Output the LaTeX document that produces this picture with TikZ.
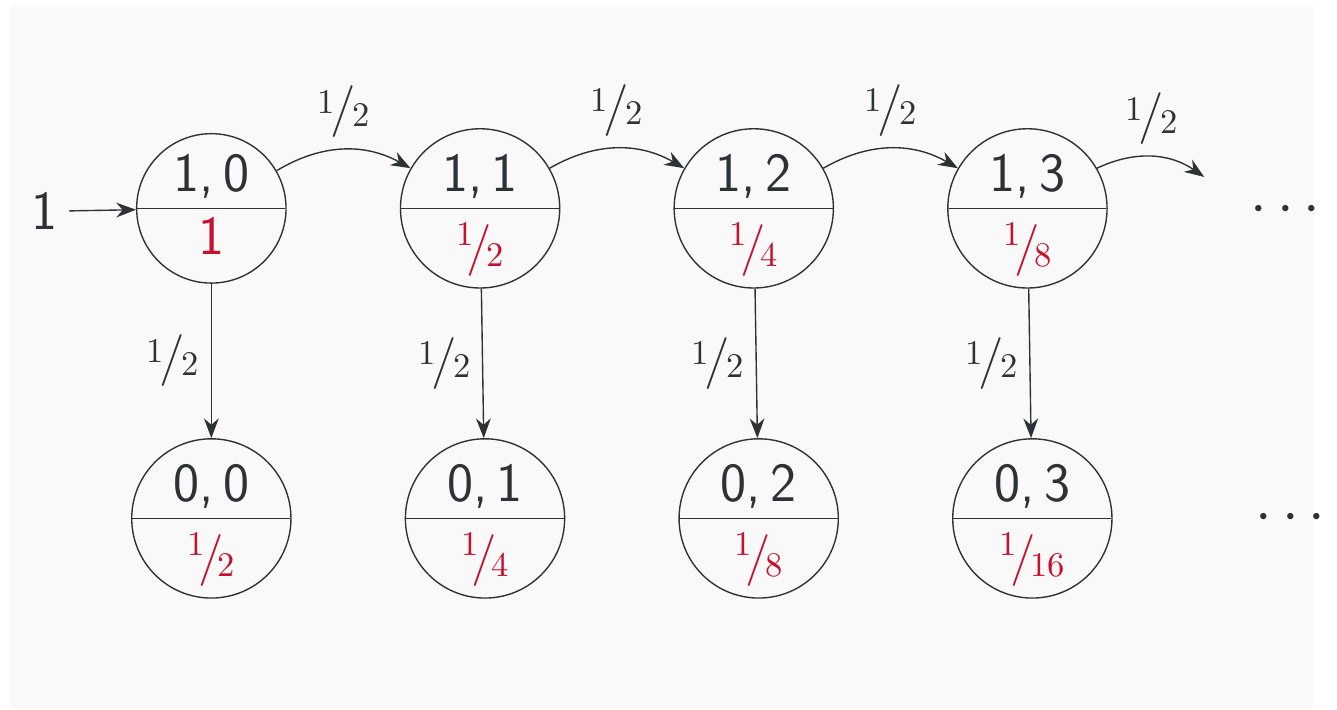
\documentclass[tikz,border=0pt]{standalone}
\usetikzlibrary{arrows.meta,positioning,shapes.multipart}
\definecolor{alert}{RGB}{200,16,46}
\definecolor{ink}{RGB}{45,50,52}
\definecolor{paper}{RGB}{249,249,249}
\newcommand{\hfr}[2]{\raisebox{.75ex}{\normalsize\rmfamily #1}\kern-.12em{\fontsize{15}{18}\selectfont/}\kern-.1em\raisebox{-.1ex}{\normalsize\rmfamily #2}}
% shift texts away from the split line, keeping their nominal size
\newcommand{\uppart}[1]{\raisebox{1.7pt}[\height][\depth]{#1}}
\newcommand{\lowpart}[2][3pt]{\raisebox{-#1}[\height][\depth]{\textcolor{alert}{#2}}}

\begin{document}
\begin{tikzpicture}[
state/.style={circle split,draw=ink,minimum size=1.62cm,inner sep=1pt,font=\fontsize{16}{19}\selectfont\sffamily,text=ink},
flow/.style={-{Stealth[length=2mm]},ink},
prob/.style={font=\sffamily,text=ink},
node distance=1.57cm and 1.15cm]
\fill[white] (0,0) rectangle (13.37,7.22);
\fill[paper] (0.11,0.01) rectangle (13.36,7.17);
% top row
\node[state,minimum size=1.52cm] (s10) at (2.15,5.10) {\uppart{1,\,0} \nodepart{lower} \lowpart[1.5pt]{1}};
\node[state,right=of s10] (s11) {\uppart{1,\,1} \nodepart{lower} \lowpart{\hfr12}};
\node[state,right=of s11] (s12) {\uppart{1,\,2} \nodepart{lower} \lowpart{\hfr14}};
\node[state,right=of s12] (s13) {\uppart{1,\,3} \nodepart{lower} \lowpart{\hfr18}};
% bottom row
\node[state,below=of s10] (s00) {\uppart{0,\,0} \nodepart{lower} \lowpart{\hfr12}};
\node[state,right=of s00] (s01) {\uppart{0,\,1} \nodepart{lower} \lowpart{\hfr14}};
\node[state,right=of s01] (s02) {\uppart{0,\,2} \nodepart{lower} \lowpart{\hfr18}};
\node[state,right=of s02] (s03) {\uppart{0,\,3} \nodepart{lower} \lowpart{\hfr1{16}}};
\node[prob,font=\fontsize{16}{19}\selectfont\sffamily] (start) at (0.45,5.07) {1};
\coordinate (more) at (12.25,5.42);
\node[text=ink] (dotstop) at (13.08,5.08) {\LARGE$\cdots$};
\node[text=ink] (dotsbot) at (13.13,1.95) {\LARGE$\cdots$};
\draw[flow] (start) -- (s10);
\draw[flow] (s10.30) to[bend left=30] node[above,prob]{\hfr12} (s11.150);
\draw[flow] (s11.30) to[bend left=30] node[above,prob]{\hfr12} (s12.150);
\draw[flow] (s12.30) to[bend left=30] node[above,prob]{\hfr12} (s13.150);
\draw[flow] (s13.30) to[bend left=30] node[above,prob]{\hfr12} (more);
\foreach \i in {0,...,3}
  \draw[flow] (s1\i) -- node[left,prob]{\hfr12} (s0\i);
\end{tikzpicture}
\end{document}
